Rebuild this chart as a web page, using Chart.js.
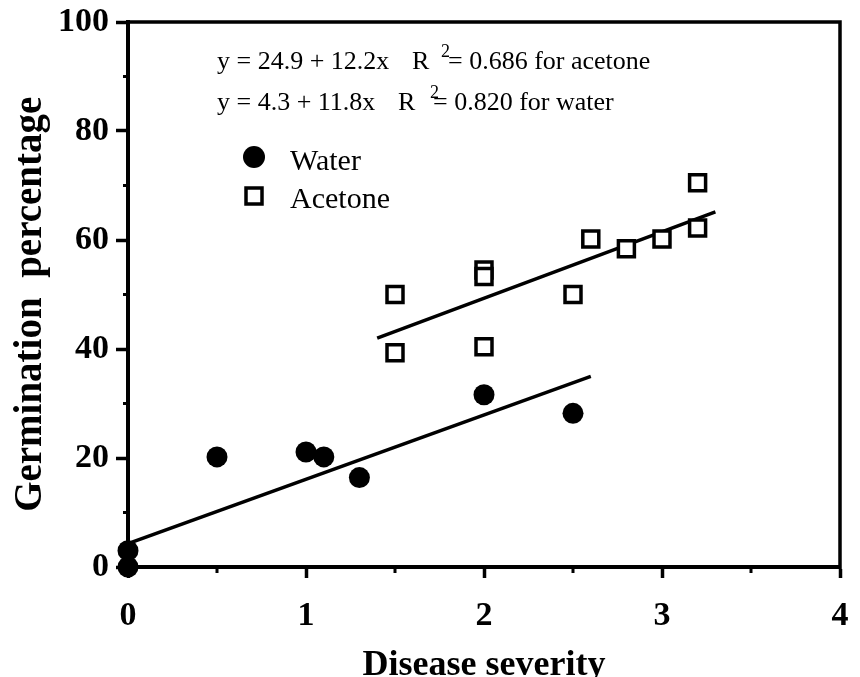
<!DOCTYPE html>
<html><head><meta charset="utf-8">
<script src="https://cdn.jsdelivr.net/npm/chart.js"></script>
<style>html,body{margin:0;padding:0;background:#fff;}</style>
</head><body>
<canvas id="c" width="860" height="677"></canvas>
<script>
// ---- data ----
const waterX = [0, 0, 0.5, 1.0, 1.1, 1.3, 2.0, 2.5];
const waterY = [0, 3, 20.2, 21.1, 20.2, 16.4, 31.6, 28.2];
const acetoneX = [1.5, 1.5, 2.0, 2.0, 2.0, 2.5, 2.6, 2.8, 3.0, 3.2, 3.2];
const acetoneY = [50, 39.3, 54.5, 53.3, 40.4, 50, 60.2, 58.4, 60.2, 70.5, 62.2];
const waterFitCoef = [4.3, 11.8];      // intercept, slope
const waterFitRange = [0, 2.6];
const acetoneFitCoef = [24.9, 12.2];
const acetoneFitRange = [1.4, 3.3];
const xTicks = [0, 1, 2, 3, 4];
const yTicks = [0, 20, 40, 60, 80, 100];
const xMinorTicks = [0.5, 1.5, 2.5, 3.5];
const yMinorTicks = [10, 30, 50, 70, 90];
const eqAcetone = ['y = 24.9 + 12.2x', 'R', '2', '= 0.686 for acetone'];
const eqWater = ['y = 4.3 + 11.8x', 'R', '2', '= 0.820 for water'];
const seriesNames = ['Water', 'Acetone'];

const SERIF = "'Liberation Serif', 'Times New Roman', serif";
const pts = (xs, ys) => xs.map((x, i) => ({x, y: ys[i]}));
const fit = (coef, range) => range.map(x => ({x, y: coef[0] + coef[1] * x}));

const decor = {
  id: 'decor',
  afterDraw(chart) {
    const ctx = chart.ctx, ca = chart.chartArea;
    const xs = chart.scales.x, ys = chart.scales.y;
    ctx.save();
    ctx.strokeStyle = '#000';
    ctx.lineCap = 'butt';
    // box (top and right)
    ctx.lineWidth = 3.5;
    ctx.beginPath();
    ctx.moveTo(ca.left - 2, ca.top);
    ctx.lineTo(ca.right, ca.top);
    ctx.lineTo(ca.right, ca.bottom + 2);
    ctx.stroke();
    // minor ticks
    ctx.lineWidth = 3;
    ctx.beginPath();
    xMinorTicks.forEach(v => {
      const px = xs.getPixelForValue(v);
      ctx.moveTo(px, ca.bottom); ctx.lineTo(px, ca.bottom + 6);
    });
    yMinorTicks.forEach(v => {
      const py = ys.getPixelForValue(v);
      ctx.moveTo(ca.left - 5, py); ctx.lineTo(ca.left, py);
    });
    ctx.stroke();
    // equations
    ctx.fillStyle = '#000';
    ctx.textBaseline = 'alphabetic';
    ctx.textAlign = 'left';
    const big = '26px ' + SERIF, small = '18px ' + SERIF;
    ctx.font = big;
    ctx.fillText(eqAcetone[0], 217, 69);
    ctx.fillText(eqAcetone[1], 412, 69);
    ctx.fillText(eqAcetone[3], 448, 69);
    ctx.font = small;
    ctx.fillText(eqAcetone[2], 441, 57);
    ctx.font = big;
    ctx.fillText(eqWater[0], 217, 110);
    ctx.fillText(eqWater[1], 398, 110);
    ctx.fillText(eqWater[3], 433, 110);
    ctx.font = small;
    ctx.fillText(eqWater[2], 430, 98);
    // legend
    ctx.beginPath();
    ctx.arc(254, 157, 11, 0, Math.PI * 2);
    ctx.fill();
    ctx.lineWidth = 3.5;
    ctx.fillStyle = '#fff';
    ctx.fillRect(246, 188, 16, 16);
    ctx.strokeRect(246, 188, 16, 16);
    ctx.fillStyle = '#000';
    ctx.font = '30px ' + SERIF;
    ctx.fillText(seriesNames[0], 290, 170);
    ctx.fillText(seriesNames[1], 290, 208);
    ctx.restore();
  }
};

const tickFont = {family: SERIF, size: 34, weight: 'bold'};

new Chart(document.getElementById('c'), {
  type: 'scatter',
  data: {
    datasets: [
      {label: seriesNames[0], data: pts(waterX, waterY), pointStyle: 'circle', pointRadius: 10.5,
       backgroundColor: '#000', borderColor: '#000', borderWidth: 0, clip: false},
      {label: seriesNames[1], data: pts(acetoneX, acetoneY), pointStyle: 'rect', pointRadius: 11.3,
       backgroundColor: '#fff', borderColor: '#000', borderWidth: 3.5, clip: false},
      {label: 'water fit', data: fit(waterFitCoef, waterFitRange), showLine: true, pointRadius: 0,
       borderColor: '#000', borderWidth: 3.5, fill: false},
      {label: 'acetone fit', data: fit(acetoneFitCoef, acetoneFitRange), showLine: true, pointRadius: 0,
       borderColor: '#000', borderWidth: 3.5, fill: false}
    ]
  },
  options: {
    responsive: false,
    animation: false,
    devicePixelRatio: 1,
    layout: {padding: {top: 22, right: 20, left: 0, bottom: 0}},
    plugins: {legend: {display: false}, tooltip: {enabled: false}},
    scales: {
      x: {
        type: 'linear', min: 0, max: 4,
        afterBuildTicks: s => { s.ticks = xTicks.map(v => ({value: v})); },
        ticks: {color: '#000', font: tickFont, padding: 18},
        grid: {drawOnChartArea: false, tickLength: 11, tickWidth: 3.5, tickColor: '#000'},
        border: {color: '#000', width: 4},
        title: {display: true, text: 'Disease severity', color: '#000',
                font: {family: SERIF, size: 36, weight: 'bold', lineHeight: 1.2}, padding: {top: 0, bottom: -10}},
        afterFit: s => { s.height = 110; s.paddingLeft = 0; s.paddingRight = 0; }
      },
      y: {
        type: 'linear', min: 0, max: 100,
        afterBuildTicks: s => { s.ticks = yTicks.map(v => ({value: v})); },
        ticks: {color: '#000', font: tickFont, padding: 7},
        grid: {drawOnChartArea: false, tickLength: 12, tickWidth: 3.5, tickColor: '#000'},
        border: {color: '#000', width: 4},
        title: {display: true, text: 'Germination  percentage  ', color: '#000',
                font: {family: SERIF, size: 39, weight: 'bold', lineHeight: 1.2}, padding: {top: 8, bottom: 0}},
        afterFit: s => { s.width = 128; s.paddingTop = 0; s.paddingBottom = 0; }
      }
    }
  },
  plugins: [decor]
});
</script>
</body></html>
